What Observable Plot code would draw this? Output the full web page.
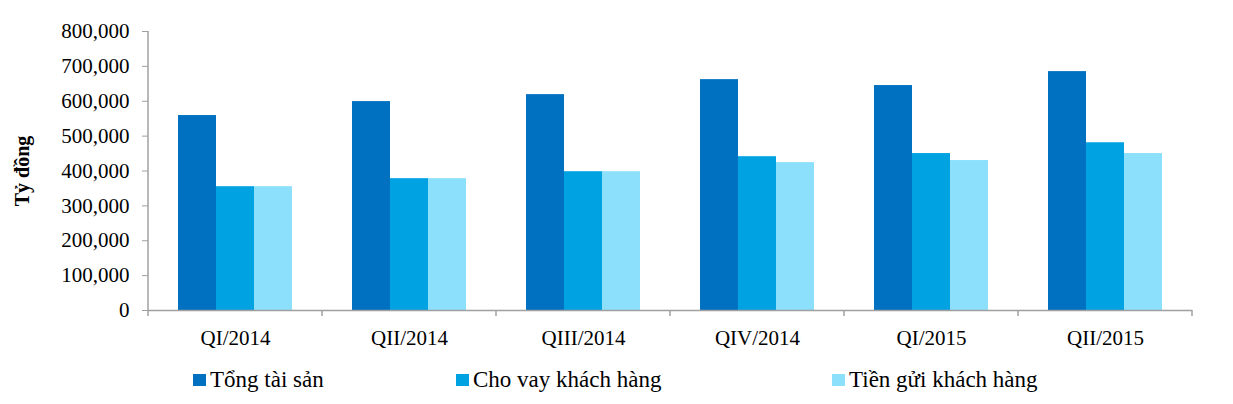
<!DOCTYPE html>
<html>
<head>
<meta charset="utf-8">
<script src="https://cdn.jsdelivr.net/npm/d3@7"></script>
<script src="https://cdn.jsdelivr.net/npm/@observablehq/plot@0.6"></script>
<style>
  body { margin: 0; background: #fff; }
  #wrap { position: relative; width: 1233px; height: 404px; font-family: "Liberation Serif", "Times New Roman", serif; }
  #legend { position: relative; height: 52px; }
  .item { position: absolute; top: 16px; font-size: 23px; line-height: 23px; color: #000; white-space: nowrap; }
  .sw { display: inline-block; width: 13px; height: 12px; margin-right: 4px; vertical-align: 1px; }
</style>
</head>
<body>
<div id="wrap"><div id="chart"></div><div id="legend"></div></div>
<script>
const quarters = ["QI/2014", "QII/2014", "QIII/2014", "QIV/2014", "QI/2015", "QII/2015"];
const seriesNames = ["Tổng tài sản", "Cho vay khách hàng", "Tiền gửi khách hàng"];
const tongTaiSan = [559000, 599000, 619000, 662000, 645000, 685000];
const choVay = [355000, 378000, 398000, 441000, 450000, 481000];
const tienGui = [355000, 378000, 398000, 424000, 430000, 450000];
const colors = ["#0070C0", "#00A2E2", "#8CE0FB"];
const yTicks = [0, 100000, 200000, 300000, 400000, 500000, 600000, 700000, 800000];
const legendLeft = [193, 456, 832];

const seriesValues = [tongTaiSan, choVay, tienGui];
const data = [];
quarters.forEach((q, i) => seriesNames.forEach((s, j) => data.push({quarter: q, series: s, value: seriesValues[j][i]})));

const plot = Plot.plot({
  width: 1233,
  height: 352,
  marginLeft: 147,
  marginRight: 40,
  marginTop: 31,
  marginBottom: 42,
  style: {fontFamily: "'Liberation Serif', 'Times New Roman', serif", fontSize: "21px", color: "#000", background: "#fff"},
  facet: {data, x: "quarter"},
  fx: {domain: quarters, padding: 0, axis: "bottom", tickSize: 0, tickPadding: 20, label: null},
  x: {domain: seriesNames, paddingInner: 0, paddingOuter: 0.75, axis: null},
  y: {domain: [0, 800000], ticks: yTicks, tickFormat: d3.format(","), tickSize: 6, tickPadding: 13,
      label: "Tỷ đồng", labelAnchor: "center", labelOffset: 134, labelArrow: "none", grid: false},
  color: {domain: seriesNames, range: colors},
  marks: [
    Plot.barY(data, {x: "series", y: "value", fill: "series"}),
    Plot.ruleY([0], {stroke: "#A0A0A0", strokeWidth: 1.5})
  ]
});
document.getElementById("chart").appendChild(plot);

const svg = d3.select(plot.tagName === "svg" ? plot : plot.querySelector("svg"));
const fx = plot.scale("fx");
const y = plot.scale("y");
const y0 = y.apply(0), yTop = y.apply(800000);
const bounds = quarters.map(q => fx.apply(q));
bounds.push(fx.apply(quarters[quarters.length - 1]) + fx.bandwidth);
const g = svg.append("g").attr("stroke", "#A0A0A0").attr("stroke-width", 1.5);
g.append("line").attr("x1", bounds[0]).attr("x2", bounds[0]).attr("y1", yTop).attr("y2", y0);
bounds.forEach(b => g.append("line").attr("x1", b).attr("x2", b).attr("y1", y0).attr("y2", y0 + 6));
svg.selectAll('g[aria-label^="y-axis"] line, g[aria-label^="y-axis"] path').attr("stroke", "#A0A0A0");
svg.selectAll('g[aria-label^="y-axis"] text').filter(function() { return this.textContent.indexOf("Tỷ") >= 0; })
  .attr("font-weight", "bold").attr("font-size", "20px");

const legend = d3.select("#legend");
seriesNames.forEach((s, i) => {
  const it = legend.append("div").attr("class", "item").style("left", legendLeft[i] + "px");
  it.append("span").attr("class", "sw").style("background", colors[i]);
  it.append("span").text(s);
});
</script>
</body>
</html>
